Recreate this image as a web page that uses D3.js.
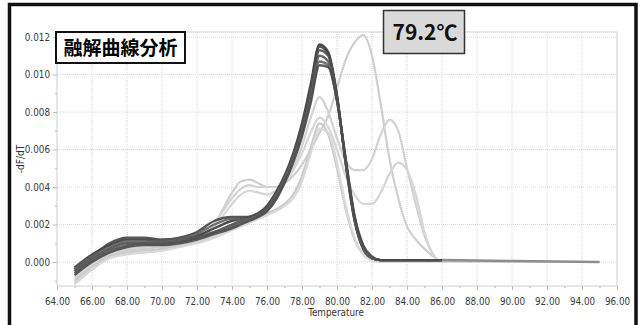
<!DOCTYPE html>
<html>
<head>
<meta charset="utf-8">
<script src="https://cdn.jsdelivr.net/npm/d3@7"></script>
<style>
  body { margin: 0; background: #fff; }
  .tick text { font-family: "DejaVu Sans Condensed", "Liberation Sans Narrow", sans-serif; font-size: 9.8px; fill: #3a3a3a; }
</style>
</head>
<body>
<div id="chart"></div>
<script>
// temperatures shared by every curve
const temps = [65, 66, 67, 68, 69, 70, 71, 72, 73, 74, 74.5, 75, 75.5, 76, 76.5, 77, 77.5, 78, 78.5, 79,
  79.5, 80, 80.5, 81, 81.5, 82, 82.5, 83, 83.5, 84, 84.5, 85, 85.5, 86, 90, 95];

// dark group (main peak ~79.2)
const dark1 = [-0.0003, 0.0004, 0.0009, 0.0012, 0.0012, 0.0011, 0.0012, 0.0014, 0.0018, 0.0022, 0.0023, 0.0024, 0.0026, 0.0030, 0.0037, 0.0046, 0.0058, 0.0074, 0.0095, 0.0116,
  0.0112, 0.0089, 0.0052, 0.0022, 0.0007, 0.0002, 0.0001, 0.0001, 0.0001, 0.0001, 0.0001, 0.0001, 0.0001, 0.0001, 0.00005, 0];
const dark2 = [-0.0004, 0.0003, 0.0010, 0.0013, 0.0013, 0.0012, 0.0013, 0.0016, 0.0022, 0.0024, 0.0024, 0.0024, 0.0025, 0.0028, 0.0035, 0.0044, 0.0056, 0.0072, 0.0093, 0.0115,
  0.0111, 0.0088, 0.0053, 0.0023, 0.0007, 0.0002, 0.0001, 0.0001, 0.0001, 0.0001, 0.0001, 0.0001, 0.0001, 0.0001, 0.00005, 0];
const dark3 = [-0.0005, 0.0002, 0.0007, 0.0010, 0.0010, 0.0010, 0.0011, 0.0013, 0.0016, 0.0020, 0.0022, 0.0024, 0.0026, 0.0029, 0.0036, 0.0045, 0.0057, 0.0072, 0.0092, 0.0113,
  0.0110, 0.0088, 0.0053, 0.0023, 0.0008, 0.0002, 0.0001, 0.0001, 0.0001, 0.0001, 0.0001, 0.0001, 0.0001, 0.0001, 0.00005, 0];
const dark4 = [-0.0006, 0.0001, 0.0006, 0.0009, 0.0010, 0.0010, 0.0011, 0.0013, 0.0016, 0.0019, 0.0021, 0.0023, 0.0025, 0.0028, 0.0034, 0.0043, 0.0055, 0.0070, 0.0089, 0.0110,
  0.0107, 0.0087, 0.0054, 0.0024, 0.0008, 0.0002, 0.0001, 0.0001, 0.0001, 0.0001, 0.0001, 0.0001, 0.0001, 0.0001, 0.00005, 0];
const dark5 = [-0.0004, 0.0003, 0.0008, 0.0011, 0.0011, 0.0011, 0.0012, 0.0015, 0.0020, 0.0023, 0.0023, 0.0023, 0.0025, 0.0028, 0.0035, 0.0044, 0.0055, 0.0069, 0.0087, 0.0107,
  0.0105, 0.0086, 0.0054, 0.0024, 0.0008, 0.0002, 0.0001, 0.0001, 0.0001, 0.0001, 0.0001, 0.0001, 0.0001, 0.0001, 0.00005, 0];
const dark6 = [-0.0007, 0.0000, 0.0005, 0.0008, 0.0009, 0.0009, 0.0010, 0.0012, 0.0015, 0.0018, 0.0020, 0.0022, 0.0024, 0.0027, 0.0033, 0.0042, 0.0053, 0.0067, 0.0085, 0.0105,
  0.0104, 0.0086, 0.0055, 0.0025, 0.0009, 0.0003, 0.0001, 0.0001, 0.0001, 0.0001, 0.0001, 0.0001, 0.0001, 0.0001, 0.00005, 0];

// light group (shifted / double peaks)
const light1 = [-0.0011, -0.0003, 0.0003, 0.0006, 0.0007, 0.0008, 0.0009, 0.0011, 0.0020, 0.0037, 0.0043, 0.0044, 0.0042, 0.0040, 0.0040, 0.0042, 0.0046, 0.0052, 0.0060, 0.0069,
  0.0078, 0.0093, 0.0108, 0.0117, 0.0121, 0.0110, 0.0084, 0.0055, 0.0034, 0.0019, 0.0012, 0.0007, 0.0003, 0, 0, 0];
const light2 = [-0.0009, -0.0002, 0.0004, 0.0007, 0.0008, 0.0009, 0.0010, 0.0012, 0.0021, 0.0034, 0.0039, 0.0041, 0.0040, 0.0040, 0.0040, 0.0043, 0.0050, 0.0062, 0.0077, 0.0088,
  0.0080, 0.0066, 0.0054, 0.0049, 0.0049, 0.0055, 0.0068, 0.0076, 0.0070, 0.0050, 0.0031, 0.0014, 0.0004, 0, 0, 0];
const light3 = [-0.0008, -0.0001, 0.0005, 0.0008, 0.0009, 0.0010, 0.0011, 0.0013, 0.0019, 0.0031, 0.0036, 0.0038, 0.0037, 0.0036, 0.0038, 0.0042, 0.0049, 0.0058, 0.0069, 0.0077,
  0.0072, 0.0060, 0.0046, 0.0036, 0.0031, 0.0031, 0.0037, 0.0047, 0.0053, 0.0049, 0.0036, 0.0016, 0.0004, 0, 0, 0];
const light4 = [-0.0010, -0.0003, 0.0003, 0.0005, 0.0006, 0.0007, 0.0009, 0.0011, 0.0014, 0.0018, 0.0020, 0.0022, 0.0024, 0.0026, 0.0028, 0.0031, 0.0036, 0.0046, 0.0061, 0.0074,
  0.0068, 0.0050, 0.0028, 0.0012, 0.0004, 0.0001, 0, 0, 0, 0, 0, 0, 0, 0, 0, 0];
const light5 = [-0.0012, -0.0004, 0.0002, 0.0004, 0.0005, 0.0006, 0.0008, 0.0010, 0.0013, 0.0017, 0.0019, 0.0021, 0.0023, 0.0025, 0.0027, 0.0030, 0.0034, 0.0043, 0.0058, 0.0071,
  0.0069, 0.0053, 0.0030, 0.0013, 0.0004, 0.0001, 0, 0, 0, 0, 0, 0, 0, 0, 0, 0];

const darkSeries = [dark1, dark2, dark3, dark4, dark5, dark6];
const lightSeries = [light1, light2, light3, light4, light5];
const darkColors = ['#3a3a3a', '#444444', '#4e4e4e', '#575757', '#606060', '#4a4a4a'];
const lightColors = ['#cfcfcf', '#d2d2d2', '#d6d6d6', '#cbcbcb', '#d9d9d9'];

const xTicks = d3.range(64, 97, 2);
const xMinor = d3.range(65, 96, 2);
const yTicks = [0, 0.002, 0.004, 0.006, 0.008, 0.010, 0.012];
const yMinor = [-0.001, 0.001, 0.003, 0.005, 0.007, 0.009, 0.011];

const title = '融解曲線分析';
const peakLabel = '79.2℃';
const xLabel = 'Temperature';
const yLabel = '-dF/dT';

const width = 641, height = 325;
const plot = { left: 57, right: 617, top: 32, bottom: 286 };

const svg = d3.select('#chart').append('svg')
  .attr('width', width)
  .attr('height', height);

const x = d3.scaleLinear().domain([64, 96]).range([plot.left, plot.right]);
const y = d3.scaleLinear().domain([-0.00128, 0.01227]).range([plot.bottom, plot.top]);

// grid
const grid = svg.append('g');
grid.selectAll('line.vx').data(xTicks.slice(1, -1)).join('line')
  .attr('x1', d => x(d)).attr('x2', d => x(d))
  .attr('y1', plot.top).attr('y2', plot.bottom)
  .attr('stroke', '#d8d8d8').attr('stroke-dasharray', '1,1');
grid.selectAll('line.hy').data(yTicks).join('line')
  .attr('x1', plot.left).attr('x2', plot.right)
  .attr('y1', d => y(d)).attr('y2', d => y(d))
  .attr('stroke', '#d8d8d8').attr('stroke-dasharray', '1,1');
svg.append('rect')
  .attr('x', plot.left).attr('y', plot.top)
  .attr('width', plot.right - plot.left).attr('height', plot.bottom - plot.top)
  .attr('fill', 'none').attr('stroke', '#cfcfcf');

// axes
svg.append('g')
  .attr('transform', 'translate(0,' + plot.bottom + ')')
  .call(d3.axisBottom(x).tickValues(xTicks).tickFormat(d3.format('.2f')).tickSize(4).tickPadding(8));
svg.append('g')
  .attr('transform', 'translate(0,' + plot.bottom + ')')
  .call(d3.axisBottom(x).tickValues(xMinor).tickFormat('').tickSize(2));
svg.append('g')
  .attr('transform', 'translate(' + plot.left + ',0)')
  .call(d3.axisLeft(y).tickValues(yTicks).tickFormat(d3.format('.3f')).tickSize(4).tickPadding(3));
svg.append('g')
  .attr('transform', 'translate(' + plot.left + ',0)')
  .call(d3.axisLeft(y).tickValues(yMinor).tickFormat('').tickSize(2));
svg.selectAll('.domain').remove();
svg.selectAll('.tick line').attr('stroke', '#bbbbbb');

svg.append('text')
  .attr('x', 336).attr('y', 316)
  .attr('text-anchor', 'middle')
  .style('font-family', '"DejaVu Sans Condensed", sans-serif')
  .style('font-size', '9.8px').attr('fill', '#333')
  .text(xLabel);
svg.append('text')
  .attr('transform', 'translate(24,159) rotate(-90)')
  .attr('text-anchor', 'middle')
  .style('font-family', '"DejaVu Sans Condensed", sans-serif')
  .style('font-size', '10px').attr('fill', '#333')
  .text(yLabel);

// curves
const line = d3.line()
  .x((d, i) => x(temps[i]))
  .y(d => y(d))
  .curve(d3.curveMonotoneX);
const darkLine = d3.line()
  .defined((d, i) => temps[i] <= 86)
  .x((d, i) => x(temps[i]))
  .y(d => y(d))
  .curve(d3.curveMonotoneX);
const tailLine = d3.line()
  .defined((d, i) => temps[i] >= 86)
  .x((d, i) => x(temps[i]))
  .y(d => y(d));

svg.append('g').selectAll('path').data(lightSeries).join('path')
  .attr('fill', 'none')
  .attr('stroke', (d, i) => lightColors[i])
  .attr('stroke-width', 2.2)
  .attr('d', line);
svg.append('path')
  .datum(dark1)
  .attr('fill', 'none')
  .attr('stroke', '#8e8e8e')
  .attr('stroke-width', 2.6)
  .attr('d', tailLine);
svg.append('g').selectAll('path').data(darkSeries).join('path')
  .attr('fill', 'none')
  .attr('stroke', (d, i) => darkColors[i])
  .attr('stroke-width', 2.4)
  .attr('stroke-opacity', 0.9)
  .attr('d', darkLine);

// title box
svg.append('rect')
  .attr('x', 56).attr('y', 32).attr('width', 129).attr('height', 31)
  .attr('fill', '#fff').attr('stroke', '#111').attr('stroke-width', 2);
svg.append('text')
  .attr('x', 120.5).attr('y', 55)
  .attr('text-anchor', 'middle')
  .style('font-family', '"Noto Sans CJK JP", sans-serif')
  .style('font-weight', 'bold').style('font-size', '19px')
  .attr('fill', '#000')
  .text(title);

// peak temperature box
svg.append('rect')
  .attr('x', 383.5).attr('y', 10.5).attr('width', 81).attr('height', 43)
  .attr('fill', '#d9d9d9').attr('stroke', '#333').attr('stroke-width', 1.5);
svg.append('text')
  .attr('x', 425).attr('y', 40)
  .attr('text-anchor', 'middle')
  .style('font-family', '"Noto Sans CJK JP", sans-serif')
  .style('font-weight', 'bold').style('font-size', '21px')
  .attr('fill', '#111')
  .text(peakLabel);

// outer frame
svg.append('rect')
  .attr('x', 9.5).attr('y', 4.5).attr('width', 626.5).attr('height', 340)
  .attr('fill', 'none').attr('stroke', '#111').attr('stroke-width', 3.5);
</script>
</body>
</html>
